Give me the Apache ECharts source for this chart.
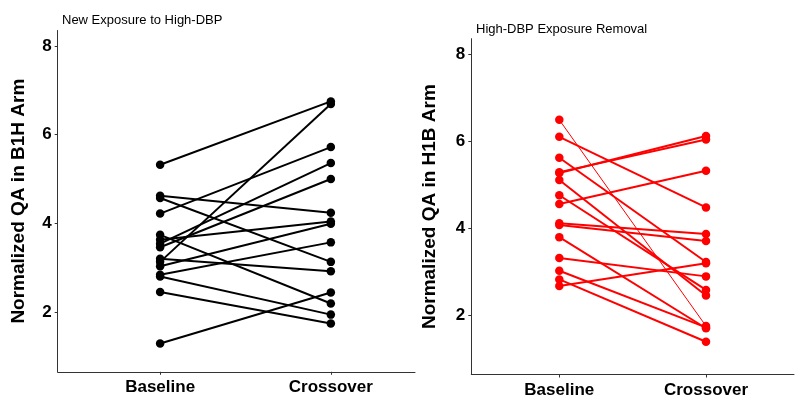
<!DOCTYPE html>
<html>
<head>
<meta charset="utf-8">
<script src="https://cdn.jsdelivr.net/npm/echarts@6/dist/echarts.min.js"></script>
<style>html,body{margin:0;padding:0;background:#fff}#c{width:800px;height:405px}</style>
</head>
<body>
<div id="c"></div>
<script>
// ---- data ----
const categories = ['Baseline', 'Crossover'];
const yTicks = [2, 4, 6, 8];

// Left panel: New Exposure to High-DBP (B1H arm), paired by index
const leftBaseline  = [5.32, 4.62, 4.57, 4.22, 3.74, 3.63, 3.54, 3.46, 3.20, 3.13, 3.03, 2.84, 2.80, 2.45, 1.29];
const leftCrossover = [6.75, 4.24, 3.13, 5.72, 2.19, 4.04, 5.36, 5.00, 2.92, 6.69, 3.99, 3.57, 1.94, 1.74, 2.44];

// Right panel: High-DBP Exposure Removal (H1B arm), paired by index
const rightBaseline  = [6.49, 6.10, 5.62, 5.29, 5.27, 5.11, 4.76, 4.56, 4.12, 4.08, 3.80, 3.32, 3.03, 2.83, 2.68];
const rightCrossover = [1.76, 4.48, 3.23, 6.04, 6.12, 2.46, 2.59, 5.32, 3.87, 3.71, 1.71, 2.90, 1.73, 1.40, 3.20];
const rightThin = [true, false, false, false, false, false, false, false, false, false, false, false, false, false, false];

const FONT = '"Liberation Sans", Arial, sans-serif';

function xAxisFor(gridIndex, max) {
  return {
    type: 'value', gridIndex: gridIndex, min: -0.6, max: max,
    axisLine: { show: true, onZero: false, lineStyle: { color: '#333', width: 1 } },
    axisTick: { show: true, length: 3, customValues: [0, 1], lineStyle: { color: '#333' } },
    axisLabel: { customValues: [0, 1], margin: 7, fontSize: 17, fontWeight: 'bold', color: '#000', fontFamily: FONT,
      formatter: v => categories[Math.round(v)] },
    splitLine: { show: false }
  };
}
function yAxisFor(gridIndex, name, gap) {
  return {
    type: 'value', gridIndex: gridIndex, min: 0.65, max: 8.35,
    name: name, nameLocation: 'middle', nameGap: gap,
    nameTextStyle: { fontSize: 19, fontWeight: 'bold', color: '#000', fontFamily: FONT },
    axisLine: { show: true, onZero: false, lineStyle: { color: '#333', width: 1 } },
    axisTick: { show: true, length: 3, customValues: yTicks, lineStyle: { color: '#333' } },
    axisLabel: { customValues: yTicks, margin: 6, fontSize: 17, fontWeight: 'bold', color: '#000', fontFamily: FONT },
    splitLine: { show: false }
  };
}

const series = [];
leftBaseline.forEach((b, i) => {
  series.push({
    type: 'line', xAxisIndex: 0, yAxisIndex: 0,
    data: [[0, b], [1, leftCrossover[i]]],
    symbol: 'circle', symbolSize: 8.5, showSymbol: true,
    lineStyle: { color: '#000', width: 2 }, itemStyle: { color: '#000' },
    silent: true, animation: false
  });
});
rightBaseline.forEach((b, i) => {
  series.push({
    type: 'line', xAxisIndex: 1, yAxisIndex: 1,
    data: [[0, b], [1, rightCrossover[i]]],
    symbol: 'circle', symbolSize: 8.5, showSymbol: true,
    lineStyle: { color: '#ff0000', width: rightThin[i] ? 1 : 2 }, itemStyle: { color: '#ff0000' },
    silent: true, animation: false
  });
});

const chart = echarts.init(document.getElementById('c'), null, { renderer: 'canvas' });
chart.setOption({
  backgroundColor: '#fff',
  animation: false,
  title: [
    { text: 'New Exposure to High-DBP', left: 57, top: 9,
      textStyle: { fontSize: 13, fontWeight: 'normal', color: '#000', fontFamily: FONT } },
    { text: 'High-DBP Exposure Removal', left: 471, top: 18,
      textStyle: { fontSize: 13, fontWeight: 'normal', color: '#000', fontFamily: FONT } }
  ],
  grid: [
    { left: 57.7, top: 30.5, width: 357.3, height: 341.3 },
    { left: 471.3, top: 38.7, width: 322.7, height: 335.8 }
  ],
  xAxis: [xAxisFor(0, 1.493), xAxisFor(1, 1.6)],
  yAxis: [yAxisFor(0, 'Normalized QA in B1H Arm', 29), yAxisFor(1, 'Normalized QA in H1B Arm', 32)],
  series: series
});
</script>
</body>
</html>
